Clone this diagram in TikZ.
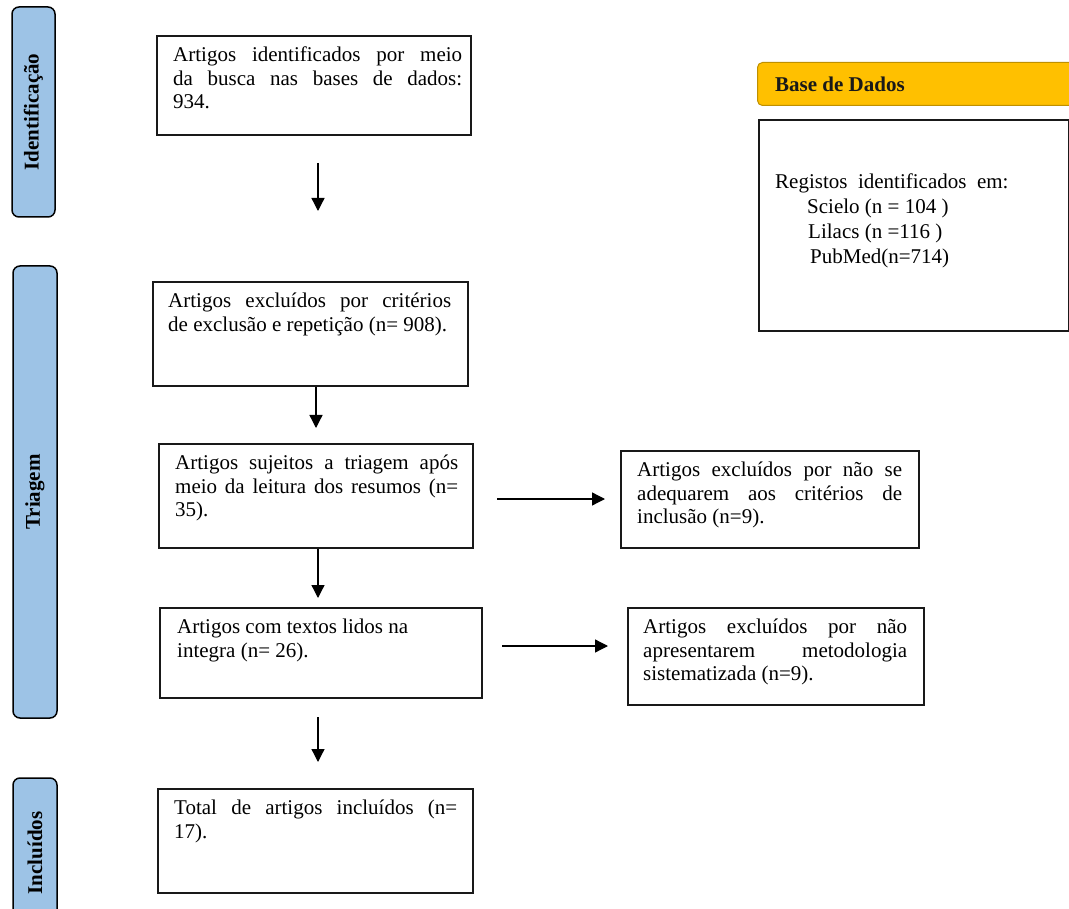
\documentclass[tikz,border=0pt]{standalone}
\usepackage{fontspec}
\setmainfont{Liberation Serif}
\usetikzlibrary{arrows.meta}
\definecolor{sideblue}{HTML}{9DC3E6}
\definecolor{headgold}{HTML}{FFC000}
\definecolor{golddark}{HTML}{BF9000}
\newcommand{\jline}[2]{\makebox[#1][s]{#2}}
\begin{document}
\begin{tikzpicture}[x=1pt,y=-1pt,
  boxshape/.style={draw=black!90, line width=1.8pt, inner sep=0pt, anchor=north west},
  txt/.style={anchor=north west, inner sep=0pt, align=left, font=\fontsize{21}{23.5}\selectfont},
  side/.style={draw=black, line width=1.5pt, fill=sideblue, rounded corners=7pt, rotate=90, inner sep=0pt, font=\fontsize{21}{24}\selectfont\bfseries},
  arr/.style={line width=1.3pt, -{Triangle[length=13pt,width=13pt]}}]
\fill[white] (0,0) rectangle (1069,909);
\useasboundingbox (0,0) rectangle (1069,909);

% side labels
\node[side, minimum width=210pt, minimum height=43pt] (sid) at (33.5,112) {Identificação};
\node[side, minimum width=452pt, minimum height=44pt] (str) at (35,492) {Triagem};
\node[side, minimum width=150pt, minimum height=44pt] (sinc) at (35,853) {Incluídos};

% main boxes
\node[boxshape, minimum width=314pt, minimum height=99pt] (b1) at (156,35) {};
\node[boxshape, minimum width=315pt, minimum height=104pt] (b2) at (152,281) {};
\node[boxshape, minimum width=314pt, minimum height=104pt] (b3) at (158,443) {};
\node[boxshape, minimum width=322pt, minimum height=90pt] (b4) at (159,607) {};
\node[boxshape, minimum width=315pt, minimum height=104pt] (b5) at (157,788) {};
\node[boxshape, minimum width=298pt, minimum height=97pt] (r1) at (620,450) {};
\node[boxshape, minimum width=296pt, minimum height=97pt] (r2) at (627,607) {};

% texts
\node[txt] (t1) at (173,47) {\jline{289pt}{Artigos identificados por meio}\\\jline{289pt}{da busca nas bases de dados:}\\934.};
\node[txt] (t2) at (168,293) {\jline{283pt}{Artigos excluídos por critérios}\\de exclusão e repetição (n= 908).};
\node[txt] (t3) at (175,455) {\jline{283pt}{Artigos sujeitos a triagem após}\\\jline{283pt}{meio da leitura dos resumos (n=}\\35).};
\node[txt] (t4) at (177,619) {Artigos com textos lidos na\\integra (n= 26).};
\node[txt] (t5) at (174,800) {\jline{283pt}{Total de artigos incluídos (n=}\\17).};
\node[txt] (tr1) at (637,462) {\jline{265pt}{Artigos excluídos por não se}\\\jline{265pt}{adequarem aos critérios de}\\inclusão (n=9).};
\node[txt] (tr2) at (643,619) {\jline{264pt}{Artigos excluídos por não}\\\jline{264pt}{apresentarem metodologia}\\sistematizada (n=9).};

% database panel
\node[draw=golddark, line width=1pt, fill=headgold, rounded corners=5pt, anchor=north west, minimum width=330pt, minimum height=43pt] (hdr) at (757,62) {};
\node[anchor=west, inner sep=0pt, font=\fontsize{21}{24}\selectfont\bfseries, text=black!90] (hdrt) at (775,84) {Base de Dados};
\node[boxshape, minimum width=310pt, minimum height=211pt] (db) at (758,119) {};
\node[anchor=north west, inner sep=0pt, align=left, font=\fontsize{21}{25}\selectfont] (dbt) at (775,174)
  {Registos\ \ identificados\ \ em:\\\hspace*{32pt}Scielo (n = 104 )\\\hspace*{33pt}Lilacs (n =116 )\\\hspace*{35pt}PubMed(n=714)};

% connectors
\coordinate (a1s) at (318,163);
\coordinate (a1e) at (318,211);
\coordinate (a2e) at (316,428);
\coordinate (a3e) at (318,598);
\coordinate (a4s) at (318,717);
\coordinate (a4e) at (318,762);
\coordinate (h1s) at (497,499);
\coordinate (h1e) at (605,499);
\coordinate (h2s) at (502,646);
\coordinate (h2e) at (608,646);
\draw[arr] (a1s) -- (a1e);
\draw[arr] (a2e |- b2.south) -- (a2e);
\draw[arr] (a3e |- b3.south) -- (a3e);
\draw[arr] (a4s) -- (a4e);
\draw[arr] (h1s) -- (h1e);
\draw[arr] (h2s) -- (h2e);
\end{tikzpicture}
\end{document}
